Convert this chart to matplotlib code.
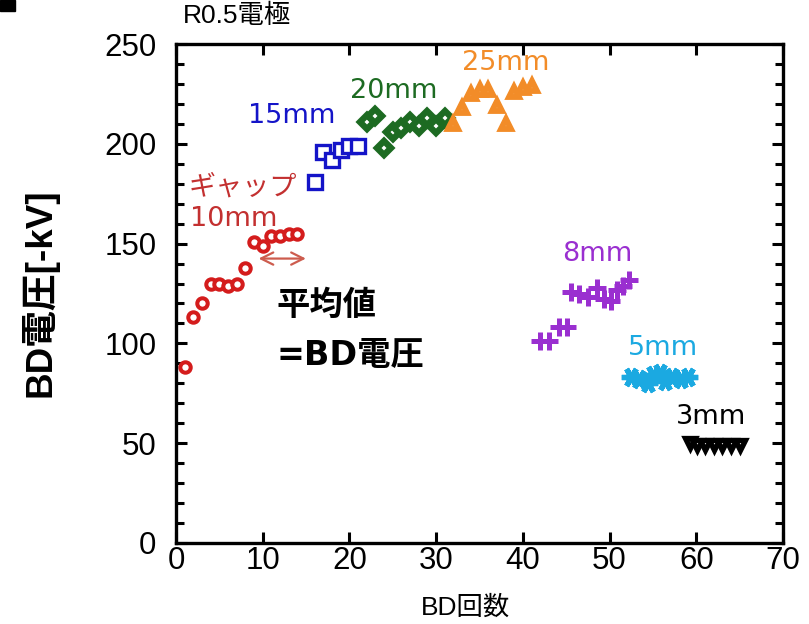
import matplotlib
matplotlib.use("Agg")
import matplotlib.pyplot as plt
from matplotlib.patches import Rectangle
from matplotlib.ticker import MultipleLocator

# BD voltage for each breakdown count, grouped by gap length (R0.5 electrode)
gap10_x = [1, 2, 3, 4, 5, 6, 7, 8, 9, 10, 11, 12, 13, 14]
gap10_y = [88, 113, 120, 130, 130, 129, 130, 138, 151, 149, 154, 154, 155, 155]

gap15_x = [16, 17, 18, 19, 20, 21]
gap15_y = [181, 196, 192, 197, 199, 199]

gap20_x = [22, 23, 24, 25, 26, 27, 28, 29, 30, 31]
gap20_y = [211, 214, 198, 206, 208, 211, 209, 213, 209, 213]

gap25_x = [32, 33, 34, 35, 36, 37, 38, 39, 40, 41]
gap25_y = [210, 218, 225, 227, 227, 219, 210, 226, 228, 229]

gap8_x = [42, 43, 44.2, 45.1, 45.6, 46.5, 47.5, 48.5, 49.3, 50.2, 50.8, 51.5, 52.2]
gap8_y = [101, 101, 108, 108, 126, 125, 123, 128, 122, 121, 127, 129, 132]

gap5_x = [52.5, 53.4, 54.4, 55.0, 55.8, 56.4, 57.2, 58.2, 59.1]
gap5_y = [83, 82, 80, 84, 85, 81, 83, 82, 83]

gap3_x = [59.3, 60.1, 61, 62, 63, 64, 65]
gap3_y = [50, 49, 49, 49, 49, 49, 49]

x_ticks = [0, 10, 20, 30, 40, 50, 60, 70]
y_ticks = [0, 50, 100, 150, 200, 250]

RED = "#d41c1c"
RED_TXT = "#c33030"
BLUE = "#1414c8"
GREEN = "#1d6b22"
ORANGE = "#f28c28"
PURPLE = "#9a2fd0"
CYAN = "#1ba9e1"
ARROW = "#cd5c4e"

LATIN = "Liberation Sans"
JP = "Noto Sans CJK JP"

fig = plt.figure(figsize=(8.09, 6.24), dpi=100)
ax = fig.add_axes([176 / 809, 1 - 543 / 624, 607 / 809, 499 / 624])

hollow = dict(linestyle="none", markerfacecolor="white")
ax.plot(gap10_x, gap10_y, marker="o", ms=7.5, mew=2.9, color=RED, **hollow)
ax.plot(gap15_x, gap15_y, marker="s", ms=10, mew=2.4, color=BLUE, **hollow)
ax.plot(gap20_x, gap20_y, marker="D", ms=7, mew=4.6, color=GREEN, **hollow)
ax.plot(gap25_x, gap25_y, marker="^", ms=7.5, mew=4.2, color=ORANGE, **hollow)
ax.plot(gap8_x, gap8_y, marker="+", ms=13, mew=3.6, color=PURPLE, linestyle="none")
ax.plot(gap5_x, gap5_y, marker=(6, 2, 90), ms=14, mew=3.8, color=CYAN, linestyle="none")
ax.plot(gap3_x, gap3_y, marker="v", ms=6.5, mew=3.8, color="black", **hollow)

ax.set_xlim(0, 70)
ax.set_ylim(0, 250)
ax.set_xticks(x_ticks)
ax.set_yticks(y_ticks)
ax.yaxis.set_minor_locator(MultipleLocator(10))
ax.tick_params(which="both", direction="in", top=True, right=True, width=2.2)
ax.tick_params(which="major", length=8, labelsize=22.5)
ax.tick_params(axis="y", which="major", pad=14)
ax.tick_params(axis="x", which="major", pad=2)
ax.tick_params(which="minor", length=6)
for lbl in ax.get_xticklabels() + ax.get_yticklabels():
    lbl.set_fontfamily(LATIN)
for sp in ax.spines.values():
    sp.set_linewidth(2.4)

# axis titles
fig.text(40 / 809, 1 - 293 / 624, "BD電圧[-kV]", fontsize=26.5, fontweight="bold",
         family=[LATIN, JP], rotation=90, ha="center", va="center")
fig.text(466 / 809, 1 - 608 / 624, "BD回数", fontsize=19,
         family=[LATIN, JP], ha="center", va="center")

# gap-length labels next to each group
lab = dict(fontsize=19.5, family=["DejaVu Sans", JP], ha="left", va="center")
ax.text(1.4, 178, "ギャップ", color=RED_TXT, **lab)
ax.text(1.6, 162.5, "10mm", color=RED_TXT, **lab)
ax.text(8.3, 214, "15mm", color=BLUE, **lab)
ax.text(20.1, 226.5, "20mm", color=GREEN, **lab)
ax.text(33.0, 240.5, "25mm", color=ORANGE, **lab)
ax.text(44.5, 145, "8mm", color=PURPLE, **lab)
ax.text(52.1, 97.5, "5mm", color=CYAN, **lab)
ax.text(57.6, 63, "3mm", color="black", **lab)

# averaging window
ax.annotate("", xy=(15.3, 142.5), xytext=(9.2, 142.5),
            arrowprops=dict(arrowstyle="<->", color=ARROW, lw=1.6,
                            mutation_scale=22))
note = dict(fontsize=24, fontweight="bold", family=["DejaVu Sans", JP],
            ha="left", va="center", color="black")
ax.text(11.6, 119, "平均値", **note)
ax.text(11.6, 94, "=BD電圧", **note)

fig.text(183 / 809, 1 - 16 / 624, "R0.5電極", fontsize=19,
         family=[LATIN, JP], ha="left", va="center")
fig.add_artist(Rectangle((0, 1 - 11 / 624), 15 / 809, 11 / 624,
                         transform=fig.transFigure, color="black"))

fig.savefig("out.png", dpi=100)
